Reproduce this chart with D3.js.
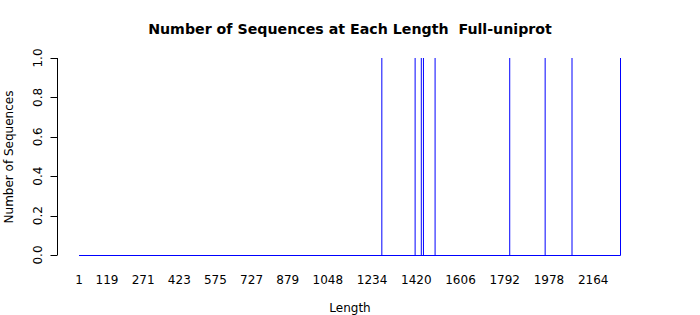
<!DOCTYPE html>
<html>
<head>
<meta charset="utf-8">
<script src="https://cdn.jsdelivr.net/npm/d3@7"></script>
<style>
body { margin: 0; background: #fff; }
text { font-family: "DejaVu Sans", sans-serif; }
</style>
</head>
<body>
<svg id="chart" width="700" height="315"></svg>
<script>
// lengths that have at least one sequence, and how many
var lengths = [1275, 1415, 1441, 1450, 1499, 1813, 1962, 2075, 2279];
var counts = [1, 1, 1, 1, 1, 1, 1, 1, 1];
var minLen = 1, maxLen = 2279;
var xTicks = [1, 119, 271, 423, 575, 727, 879, 1048, 1234, 1420, 1606, 1792, 1978, 2164];
var yTicks = [0, 0.2, 0.4, 0.6, 0.8, 1.0];

var svg = d3.select("#chart");
var BLUE = "#0000ff";

var x = d3.scaleLinear().domain([minLen, maxLen]).range([79, 620.5]);
var y = d3.scaleLinear().domain([0, 1]).range([255, 58]);

// zero-height bars show up as the baseline
svg.append("line")
    .attr("x1", x(minLen)).attr("x2", x(maxLen))
    .attr("y1", y(0) + 0.5).attr("y2", y(0) + 0.5)
    .attr("stroke", BLUE).attr("stroke-width", 1);

svg.selectAll(".bar").data(lengths).enter().append("line")
    .attr("class", "bar")
    .attr("x1", function (d) { return x(d); })
    .attr("x2", function (d) { return x(d); })
    .attr("y1", y(0) + 0.5)
    .attr("y2", function (d, i) { return y(counts[i]); })
    .attr("stroke", BLUE).attr("stroke-width", 1);

// y axis
var yAxis = svg.append("g").attr("transform", "translate(57.5,0)");
yAxis.append("line").attr("x1", 0).attr("x2", 0)
    .attr("y1", y(0)).attr("y2", y(1)).attr("stroke", "#000");
yAxis.selectAll(".tk").data(yTicks).enter().append("line")
    .attr("x1", -7).attr("x2", 0)
    .attr("y1", function (d) { return Math.round(y(d)) + 0.5; })
    .attr("y2", function (d) { return Math.round(y(d)) + 0.5; })
    .attr("stroke", "#000");
yAxis.selectAll(".lb").data(yTicks).enter().append("text")
    .attr("transform", function (d) { return "translate(-16," + y(d) + ") rotate(-90)"; })
    .attr("text-anchor", "middle")
    .attr("font-size", 12).attr("fill", "#000")
    .text(function (d) { return d.toFixed(1); });

// x tick labels (no axis line, like barplot names)
svg.selectAll(".xl").data(xTicks).enter().append("text")
    .attr("x", function (d) { return x(d); })
    .attr("y", 284)
    .attr("text-anchor", "middle")
    .attr("font-size", 12).attr("fill", "#000")
    .text(function (d) { return d; });

svg.append("text")
    .attr("x", 350).attr("y", 34)
    .attr("text-anchor", "middle")
    .attr("font-size", 14.2).attr("font-weight", "bold")
    .style("white-space", "pre")
    .text("Number of Sequences at Each Length  Full-uniprot");

svg.append("text")
    .attr("x", 350).attr("y", 312)
    .attr("text-anchor", "middle")
    .attr("font-size", 12)
    .text("Length");

svg.append("text")
    .attr("transform", "translate(13,157) rotate(-90)")
    .attr("text-anchor", "middle")
    .attr("font-size", 12)
    .text("Number of Sequences");
</script>
</body>
</html>
